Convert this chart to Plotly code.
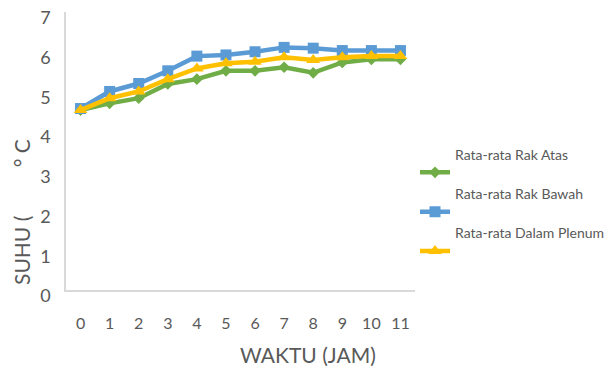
import plotly.graph_objects as go

hours = list(range(12))
tick_labels = [str(h) for h in hours]
rak_atas = [4.53, 4.70, 4.83, 5.19, 5.31, 5.52, 5.52, 5.61, 5.47, 5.73, 5.81, 5.81]
rak_bawah = [4.57, 5.00, 5.20, 5.52, 5.89, 5.92, 6.00, 6.11, 6.09, 6.03, 6.03, 6.03]
dalam_plenum = [4.53, 4.83, 5.00, 5.31, 5.58, 5.71, 5.75, 5.86, 5.79, 5.86, 5.89, 5.89]
names = ["Rata-rata Rak Atas", "Rata-rata Rak Bawah", "Rata-rata Dalam Plenum"]

FONT = "Lato"
W, H = 608, 362  # page body has an 8px margin
fig = go.Figure()
series = [
    (rak_atas, "#70AD47", "diamond", 9),
    (rak_bawah, "#5B9BD5", "square", 11),
    (dalam_plenum, "#FFC000", "triangle-up", 12),
]
for (vals, col, sym, sz), nm in zip(series, names):
    fig.add_trace(go.Scatter(
        x=hours, y=vals, name=nm + "<br> ", mode="lines+markers",
        line=dict(color=col, width=4.5),
        marker=dict(color=col, symbol=sym, size=sz),
    ))

fig.update_layout(
    width=W, height=H,
    margin=dict(l=58, r=201, t=4, b=80),
    paper_bgcolor="white", plot_bgcolor="white",
    font=dict(family=FONT, color="#595959"),
    showlegend=True,
    legend=dict(xref="container", yref="container", x=407 / W, y=1 - 195 / H,
                xanchor="left", yanchor="middle",
                font=dict(size=14, color="#595959"),
                valign="bottom", itemwidth=30, tracegroupgap=0),
    xaxis=dict(range=[-0.5, 11.5], tickmode="array", tickvals=hours, ticktext=tick_labels,
               showline=True, linecolor="#d9d9d9", linewidth=2, showgrid=False, automargin=False,
               zeroline=False, ticks="outside", ticklen=18, tickcolor="rgba(0,0,0,0)",
               tickfont=dict(size=16, color="#595959")),
    yaxis=dict(range=[0, 7.001], tickmode="array", tickvals=[0, 1, 2, 3, 4, 5, 6, 7],
               showline=True, linecolor="#d9d9d9", linewidth=1.5, automargin=False,
               showgrid=False, zeroline=False, ticks="outside", ticklen=10,
               tickcolor="rgba(0,0,0,0)", ticklabelshift=6, ticklabeloverflow="allow",
               tickfont=dict(size=18, color="#595959")),
    annotations=[
        dict(text="WAKTU (JAM)", xref="paper", yref="paper", x=(300 - 58) / 349, y=-(347 - 282) / 278,
             xanchor="center", yanchor="middle", showarrow=False,
             font=dict(size=21, color="#595959", family=FONT)),
        dict(text="SUHU (         ° C", xref="paper", yref="paper", x=-(58 - 13) / 349, y=(282 - 204) / 278,
             xanchor="center", yanchor="middle", showarrow=False, textangle=-90,
             font=dict(size=21, color="#595959", family=FONT)),
    ],
)
fig.write_html("out.html")
